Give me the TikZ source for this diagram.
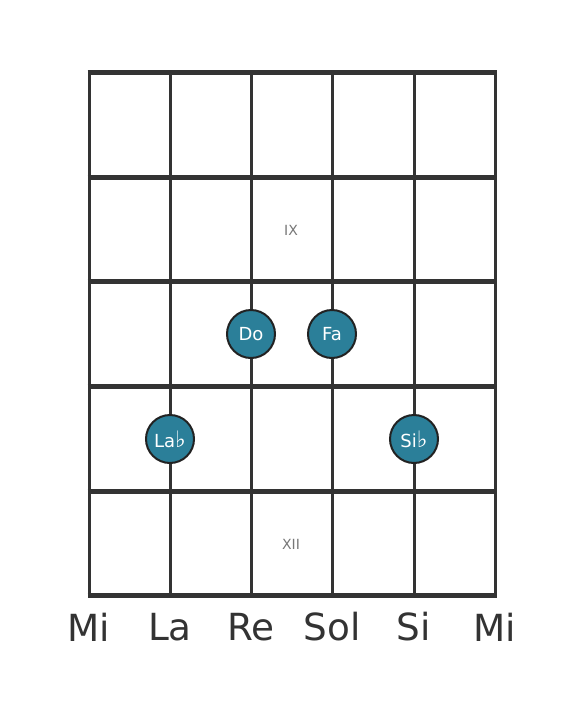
\documentclass[tikz,border=0pt]{standalone}
\usepackage{fontspec}
\setmainfont{DejaVu Sans}
\definecolor{board}{HTML}{333333}
\definecolor{notefill}{HTML}{2B7F99}
\definecolor{noteedge}{HTML}{222222}
\definecolor{fretnum}{HTML}{777777}
\newcommand{\flatsign}{{\fontsize{17pt}{17pt}\selectfont ♭}}
\tikzset{
  fretline/.style={draw=board, line width=3.75pt},
  stringline/.style={draw=board, line width=2.25pt},
  note/.style={draw=noteedge, fill=notefill, text=white, shape=circle, line width=1.5pt,
    minimum size=36pt, inner sep=0pt, font=\fontsize{13.5pt}{14pt}\selectfont},
  strname/.style={text=board, font=\fontsize{28pt}{30pt}\selectfont},
  fretmark/.style={text=fretnum, font=\fontsize{10.5pt}{11pt}\selectfont}
}
\begin{document}
\begin{tikzpicture}[x=0.75pt,y=-0.75pt]
\useasboundingbox (0,0) rectangle (584,711);
% strings
\draw[stringline] (89,72) -- (89,595);
\draw[stringline] (170,72) -- (170,595);
\draw[stringline] (251,72) -- (251,595);
\draw[stringline] (332,72) -- (332,595);
\draw[stringline] (414,72) -- (414,595);
\draw[stringline] (495,72) -- (495,595);
% frets
\draw[fretline] (87.5,72) -- (496.5,72);
\draw[fretline] (87.5,177) -- (496.5,177);
\draw[fretline] (87.5,281) -- (496.5,281);
\draw[fretline] (87.5,386) -- (496.5,386);
\draw[fretline] (87.5,491) -- (496.5,491);
\draw[fretline] (87.5,595) -- (496.5,595);

\node[fretmark] (f_9) at (291,230) {IX};
\node[fretmark] (f_12) at (291,544) {XII};

\node[note] (n_do) at (251,334) {Do};
\node[note] (n_fa) at (332,334) {Fa};
\node[note] (n_lab) at (170,439) {La\flatsign};
\node[note] (n_sib) at (414,439) {Si\flatsign};

\node[strname] (s_1) at (89,627) {Mi};
\node[strname] (s_2) at (170,627) {La};
\node[strname] (s_3) at (251,627) {Re};
\node[strname] (s_4) at (332,627) {Sol};
\node[strname] (s_5) at (414,627) {Si};
\node[strname] (s_6) at (495,627) {Mi};
\end{tikzpicture}
\end{document}
